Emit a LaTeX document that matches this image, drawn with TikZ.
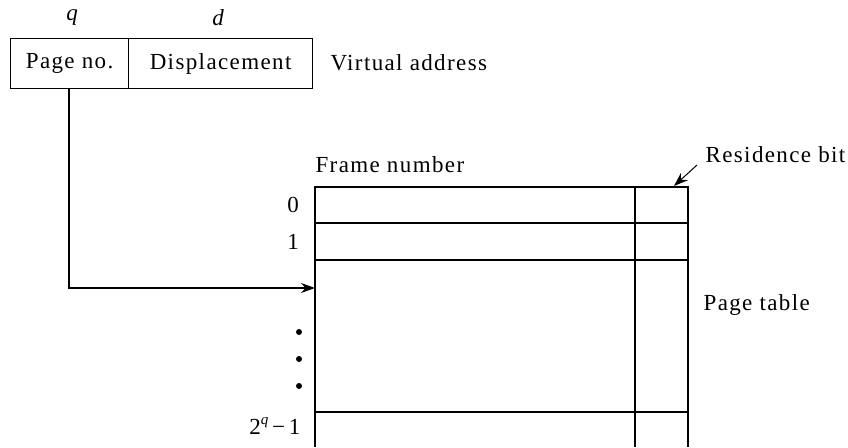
\documentclass[tikz,border=0pt]{standalone}
\usepackage{fontspec}
\setmainfont[LetterSpace=6]{Liberation Serif}
\usetikzlibrary{arrows.meta}
\begin{document}
\begin{tikzpicture}[x=1pt,y=-1pt,line width=1.2pt,
  lbl/.style={font=\fontsize{23}{27}\selectfont, inner sep=0pt},
  tip/.style={-{Stealth[length=14pt,width=10pt]}}]
\useasboundingbox (0,0) rectangle (848,447);
% virtual address
\node[draw,minimum width=118pt,minimum height=50pt,anchor=north west,inner sep=0pt] (pg) at (10,38) {};
\node[draw,minimum width=184pt,minimum height=50pt,anchor=north west,inner sep=0pt] (disp) at (128,38) {};
\node[lbl] (pgt) at (pg.center) {Page no.};
\node[lbl] (dispt) at (disp.center) {Displacement};
\node[lbl,anchor=west] (va) at (330,63) {Virtual address};
\node[lbl,font=\fontsize{23}{27}\selectfont\itshape] (q) at (72,18) {q};
\node[lbl,font=\fontsize{23}{27}\selectfont\itshape] (d) at (218,18) {d};
% page table
\coordinate (tl) at (315,187);
\coordinate (tr) at (688,187);
\coordinate (bl) at (315,447);
\coordinate (br) at (688,447);
\coordinate (dt) at (635,187);
\coordinate (db) at (635,447);
\draw (bl) -- (tl) -- (tr) -- (br);
\draw (dt) -- (db);
\coordinate (r1l) at (315,223); \coordinate (r1r) at (688,223);
\coordinate (r2l) at (315,260); \coordinate (r2r) at (688,260);
\coordinate (r3l) at (315,412); \coordinate (r3r) at (688,412);
\draw (r1l) -- (r1r);
\draw (r2l) -- (r2r);
\draw (r3l) -- (r3r);
\node[lbl,anchor=west] (fn) at (315,165) {Frame number};
\node[lbl,anchor=west] (rb) at (705,155) {Residence bit};
\coordinate (rbtip) at (674,186);
\draw[tip,line width=1pt] (697,165) -- (rbtip);
\node[lbl,anchor=west] (pt) at (703,305) {Page table};
\node[lbl] (n0) at (293,205) {0};
\node[lbl] (n1) at (293,242) {1};
\foreach \y in {332,359,386} \fill (299,\y) circle (3pt);
\node[lbl,anchor=east] (nq) at (301,426) {2\raisebox{0.45em}{\fontsize{15}{15}\selectfont\itshape q}\,−\,1};
% connector
\coordinate (arr) at (315,288);
\coordinate (st) at (69,88);
\draw[tip] (st) -- (69,288) -- (arr);
\end{tikzpicture}
\end{document}
